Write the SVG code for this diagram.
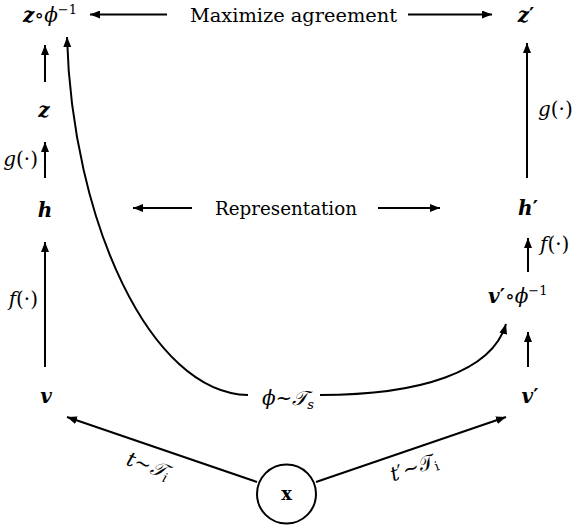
<svg xmlns="http://www.w3.org/2000/svg" width="578" height="526" viewBox="0 0 578 526">
<defs>
<marker id="ah" markerUnits="userSpaceOnUse" markerWidth="11" markerHeight="8" refX="10" refY="4" orient="auto">
<path d="M0,0 L10,4 L0,8 z" fill="#000"/>
</marker>
<style>
text{font-family:"DejaVu Serif","DejaVu Sans",serif;fill:#000}
.w{font-size:18px}
.m{font-size:20px}
.b{font-weight:bold;font-style:italic}
.i{font-style:italic}
.p{font-style:normal}
.sup{font-size:13px}
.c{fill:none;stroke:#000;stroke-width:2}
.a{fill:none;stroke:#000;stroke-width:2;marker-end:url(#ah)}
</style>
</defs>
<rect width="578" height="526" fill="#fff"/>
<g id="connectors">
<path class="a" d="M167,14.5 H90"/>
<path class="a" d="M408,14.5 H492"/>
<path class="a" d="M45,82 V45"/>
<path class="a" d="M45,178 V142"/>
<path class="a" d="M45,367 V242"/>
<path class="a" d="M192,208 H133"/>
<path class="a" d="M378,208 H440"/>
<path class="a" d="M527,178 V43"/>
<path class="a" d="M528,272 V238"/>
<path class="a" d="M528,367 V332"/>
<path class="a" d="M257,482 L67,417"/>
<path class="a" d="M316,482 L506,417"/>
<path class="a" d="M248,395 C150,393 72,220 67,37"/>
<path class="a" d="M320,395 C420,395 492,372 506,324"/>
</g>
<g id="node-z-phi-inv"><text class="m" x="23" y="22"><tspan class="b">z</tspan>∘<tspan class="i">ϕ</tspan><tspan class="sup" dy="-8">−1</tspan></text></g>
<g id="label-maximize"><text class="w" x="190" y="22" textLength="207" lengthAdjust="spacingAndGlyphs">Maximize agreement</text></g>
<g id="node-z-prime"><text class="m b" x="526" y="22" text-anchor="middle">z<tspan class="p">′</tspan></text></g>
<g id="node-z"><text class="m b" x="44" y="117" text-anchor="middle">z</text></g>
<g id="label-g-left"><text class="m" x="38" y="166" text-anchor="end"><tspan class="i">g</tspan>(·)</text></g>
<g id="node-h"><text class="m b" x="45" y="217" text-anchor="middle">h</text></g>
<g id="label-representation"><text class="w" x="215" y="215" textLength="142" lengthAdjust="spacingAndGlyphs">Representation</text></g>
<g id="label-f-left"><text class="m" x="38" y="306" text-anchor="end"><tspan class="i">f</tspan>(·)</text></g>
<g id="node-v"><text class="m b" x="46" y="403" text-anchor="middle">v</text></g>
<g id="label-g-right"><text class="m" x="538" y="116"><tspan class="i">g</tspan>(·)</text></g>
<g id="node-h-prime"><text class="m b" x="528" y="215" text-anchor="middle">h<tspan class="p">′</tspan></text></g>
<g id="label-f-right"><text class="m" x="540" y="251"><tspan class="i">f</tspan>(·)</text></g>
<g id="node-v-prime-phi-inv"><text class="m" x="488" y="303"><tspan class="b">v</tspan><tspan style="font-weight:bold">′</tspan>∘<tspan class="i">ϕ</tspan><tspan class="sup" dy="-8">−1</tspan></text></g>
<g id="node-v-prime"><text class="m b" x="530" y="403" text-anchor="middle">v<tspan class="p">′</tspan></text></g>
<g id="label-phi"><text class="m" x="288" y="405" text-anchor="middle"><tspan class="i">ϕ</tspan>~<tspan class="i">𝒯</tspan><tspan class="i sup" dy="4">s</tspan></text></g>
<g id="label-t"><text class="m" x="148" y="472" text-anchor="middle" transform="rotate(19 148 466)"><tspan class="i">t</tspan>~<tspan class="i">𝒯</tspan><tspan class="i sup" dy="4">i</tspan></text></g>
<g id="label-t-prime"><text class="m" x="414" y="474" text-anchor="middle" transform="rotate(-19 414 468)"><tspan class="i">t</tspan>′~𝒯<tspan class="sup" dy="4">i</tspan></text></g>
<g id="node-x"><circle cx="286.5" cy="494" r="29.5" class="c"/><text x="286.5" y="500" text-anchor="middle" style="font-size:18px;font-weight:bold">x</text></g>
</svg>
